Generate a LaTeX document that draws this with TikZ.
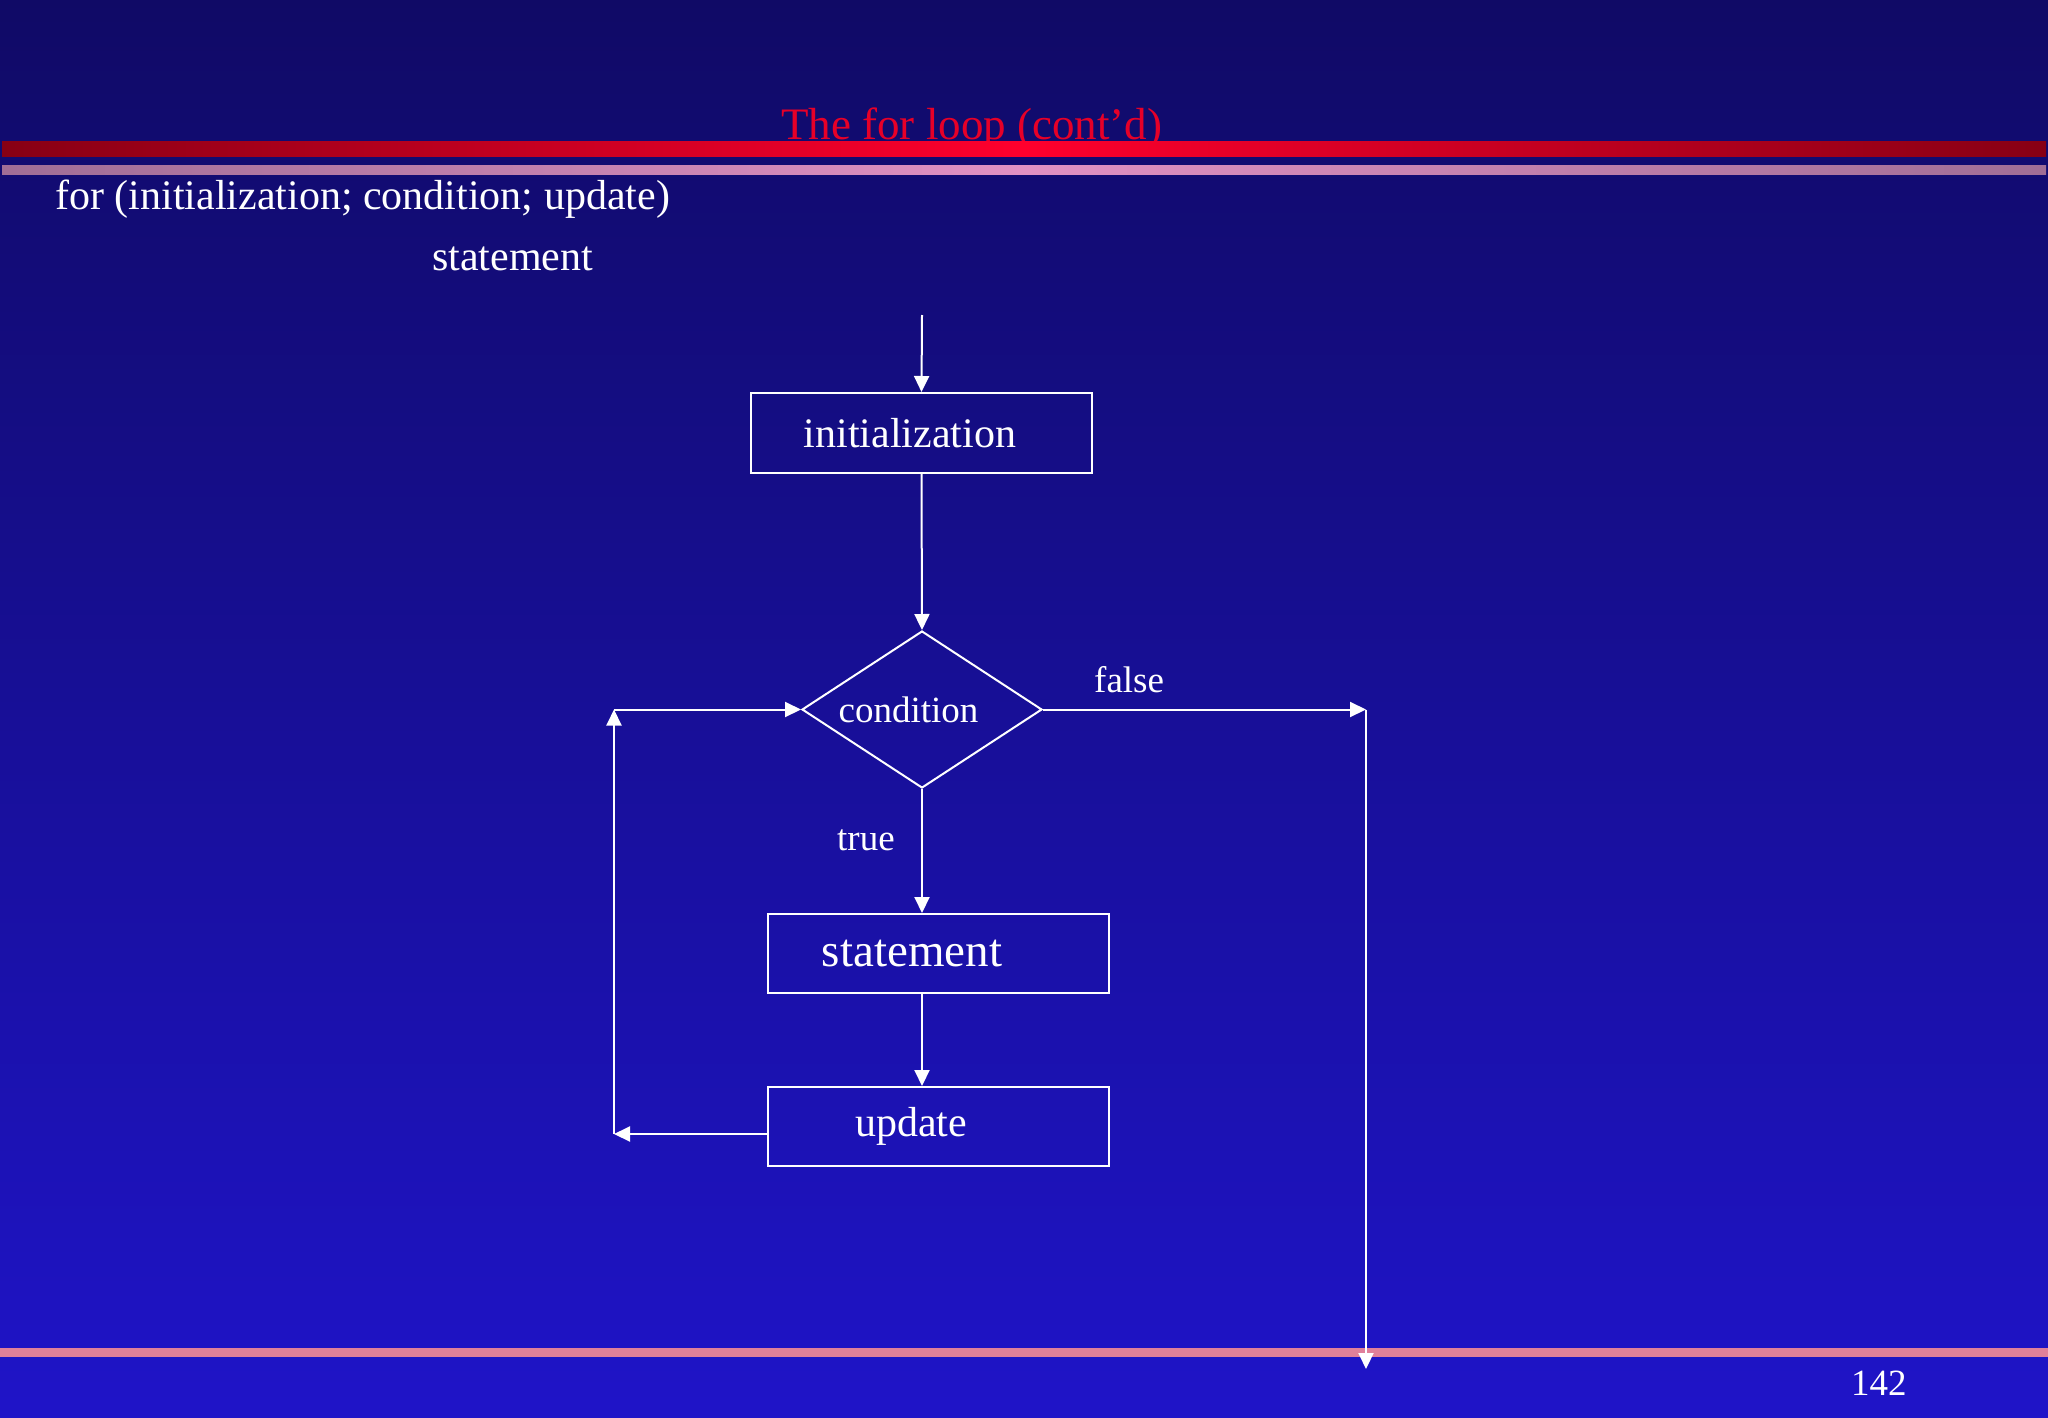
\documentclass[tikz,border=0pt]{standalone}
\usepackage{fontspec}
\setmainfont{Liberation Serif}
\usetikzlibrary{arrows.meta,shapes.geometric}
\definecolor{bgtop}{RGB}{16,10,102}
\definecolor{bgbot}{RGB}{31,20,200}
\definecolor{redend}{RGB}{135,0,20}
\definecolor{redmid}{RGB}{255,0,45}
\definecolor{pinkend}{RGB}{160,110,150}
\definecolor{pinkmid}{RGB}{225,145,195}
\definecolor{pinkbot}{RGB}{224,128,154}
\definecolor{titlered}{RGB}{230,0,40}
\begin{document}
\begin{tikzpicture}[x=1pt,y=-1pt,
  box/.style={draw=white, line width=2pt, minimum width=341pt, minimum height=79pt, inner sep=0pt, text=white, font=\fontsize{42}{50}\selectfont},
  dec/.style={diamond, draw=white, line width=2pt, minimum width=240pt, minimum height=157pt, aspect=1.53, inner sep=0pt, text=white, font=\fontsize{37}{44}\selectfont},
  lbl/.style={text=white, inner sep=0pt, anchor=base west, font=\fontsize{37}{44}\selectfont},
  body/.style={text=white, inner sep=0pt, anchor=base west, font=\fontsize{42}{50}\selectfont},
  arr/.style={draw=white, line width=2pt, -{Triangle[length=16pt,width=15pt]}}]
\useasboundingbox (0,0) rectangle (2048,1418);
\shade[top color=bgtop, bottom color=bgbot] (0,0) rectangle (2048,1418);
% title and bars
\node[anchor=base west, inner sep=0pt, text=titlered, font=\fontsize{45}{54}\selectfont] (title) at (781,140) {The for loop (cont’d)};
\shade[left color=redend, right color=redend, middle color=redmid] (2,142) rectangle (2046,157);
\shade[left color=pinkend, right color=pinkend, middle color=pinkmid] (2,165) rectangle (2046,174);
\fill[pinkbot] (0,1348) rectangle (2048,1357);
% header text
\node[body] (hdr) at (55,209) {for (initialization; condition; update)};
\node[body] (hdrst) at (432,270) {statement};
% flowchart
\coordinate (start) at (922,315);
\node[box, minimum height=80pt] (init) at (921.5,433) {initialization\kern23pt};
\node[dec] (cond) at (922,709.5) {\raisebox{-3pt}{condition}\kern27pt};
\node[box, font=\fontsize{47}{56}\selectfont] (stmt) at (938.5,953.5) {\raisebox{-5pt}{statement}\kern53pt};
\node[box] (upd) at (938.5,1126.5) {\raisebox{-4pt}{update}\kern55pt};
\coordinate (ll) at (614,1134);
\coordinate (lu) at (614,709.5);
\coordinate (fr) at (1366,709.5);
\coordinate (fb) at (1366,1369);
\draw[arr] (start) -- (init.north);
\draw[arr] (init.south) -- (cond.north);
\draw[arr] (cond.south) -- (cond.south |- stmt.north);
\draw[arr] (cond.south |- stmt.south) -- (cond.south |- upd.north);
\draw[arr] (upd.west |- ll) -- (ll);
\draw[arr] (ll) -- (lu);
\draw[arr] (lu) -- (cond.west);
\draw[arr] (cond.east) -- (fr);
\draw[arr] (fr) -- (fb);
% labels
\node[lbl] (false) at (1094,692) {false};
\node[lbl] (true) at (837,850) {true};
\node[lbl] (page) at (1851,1395) {142};
\end{tikzpicture}
\end{document}
